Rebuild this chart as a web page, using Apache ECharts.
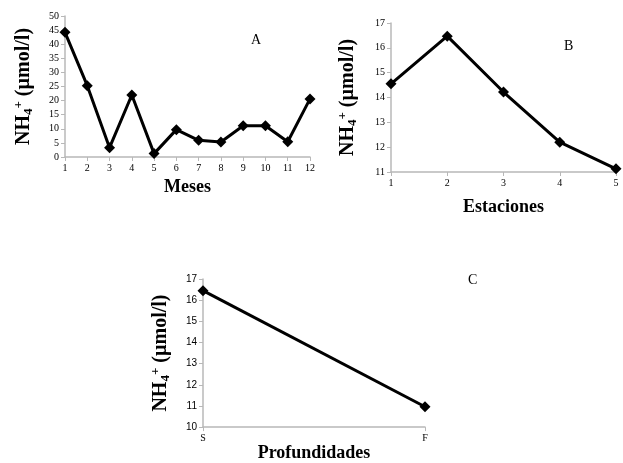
<!DOCTYPE html>
<html>
<head>
<meta charset="utf-8">
<script src="https://cdn.jsdelivr.net/npm/echarts@6/dist/echarts.min.js"></script>
<style>
  html, body { margin: 0; padding: 0; background: #fff; }
  #chart { width: 623px; height: 463px; }
</style>
</head>
<body>
<div id="chart"></div>
<script>
// Monthly ammonium (panel A)
const meses = ['1', '2', '3', '4', '5', '6', '7', '8', '9', '10', '11', '12'];
const nh4Meses = [44.2, 25.3, 3.3, 22.0, 1.2, 9.7, 5.9, 5.3, 11.1, 11.1, 5.4, 20.6];

// Ammonium by station (panel B)
const estaciones = ['1', '2', '3', '4', '5'];
const nh4Estaciones = [14.55, 16.47, 14.22, 12.2, 11.13];

// Ammonium by depth (panel C)
const profundidades = ['S', 'F'];
const nh4Profundidades = [16.45, 10.96];

const SERIF = '"Liberation Serif", "Times New Roman", serif';
const SANS = '"Liberation Sans", Arial, sans-serif';

const yName = '{b|NH}{sub|4}{sup|+}{b| (µmol/l)}';
const yNameRich = {
  b:   { fontFamily: SERIF, fontWeight: 'bold', fontSize: 20, color: '#000' },
  sub: { fontFamily: SERIF, fontWeight: 'bold', fontSize: 13, color: '#000', padding: [9, 0, 0, 0] },
  sup: { fontFamily: SERIF, fontWeight: 'bold', fontSize: 13, color: '#000', padding: [0, 0, 11, 0] }
};

const axisLineStyle = { show: true, lineStyle: { color: '#b8b8b8', width: 1.5 } };
const axisTickStyle = { show: true, length: 4, lineStyle: { color: '#b8b8b8', width: 1 } };

function xAxisFor(gridIndex, cats, name, gap) {
  return {
    gridIndex: gridIndex,
    type: 'category',
    data: cats,
    boundaryGap: false,
    axisLine: axisLineStyle,
    axisTick: Object.assign({ alignWithLabel: true }, axisTickStyle),
    axisLabel: { fontFamily: SERIF, fontSize: 10, color: '#000', margin: 6 },
    splitLine: { show: false },
    name: name,
    nameLocation: 'middle',
    nameGap: gap,
    nameTextStyle: { fontFamily: SERIF, fontWeight: 'bold', fontSize: 18, color: '#000' }
  };
}

function yAxisFor(gridIndex, min, max, interval, labelFont, gap) {
  return {
    gridIndex: gridIndex,
    type: 'value',
    min: min,
    max: max,
    interval: interval,
    axisLine: axisLineStyle,
    axisTick: axisTickStyle,
    axisLabel: { fontFamily: labelFont, fontSize: 10, color: '#000', margin: 6 },
    splitLine: { show: false },
    name: yName,
    nameLocation: 'middle',
    nameGap: gap,
    nameRotate: 90,
    nameTextStyle: { rich: yNameRich }
  };
}

function lineSeries(idx, values) {
  return {
    type: 'line',
    xAxisIndex: idx,
    yAxisIndex: idx,
    data: values,
    symbol: 'diamond',
    symbolSize: 11,
    showAllSymbol: true,
    lineStyle: { color: '#000', width: 3 },
    itemStyle: { color: '#000' },
    animation: false
  };
}

const chart = echarts.init(document.getElementById('chart'), null, { renderer: 'canvas' });

chart.setOption({
  backgroundColor: '#fff',
  animation: false,
  title: [
    { text: 'A', left: 246, top: 28, textStyle: { fontFamily: SERIF, fontWeight: 'normal', fontSize: 14, color: '#000' } },
    { text: 'B', left: 559, top: 34, textStyle: { fontFamily: SERIF, fontWeight: 'normal', fontSize: 14, color: '#000' } },
    { text: 'C', left: 463, top: 268, textStyle: { fontFamily: SERIF, fontWeight: 'normal', fontSize: 14, color: '#000' } }
  ],
  grid: [
    { left: 65, top: 16, width: 245, height: 141 },
    { left: 391, top: 23, width: 225, height: 149 },
    { left: 203, top: 279, width: 222, height: 150 }
  ],
  xAxis: [
    xAxisFor(0, meses, 'Meses', 21),
    xAxisFor(1, estaciones, 'Estaciones', 26),
    xAxisFor(2, profundidades, 'Profundidades', 16)
  ],
  yAxis: [
    yAxisFor(0, 0, 50, 5, SERIF, 29),
    yAxisFor(1, 11, 17, 1, SERIF, 31),
    yAxisFor(2, 10, 17, 1, SANS, 30)
  ],
  series: [
    lineSeries(0, nh4Meses),
    lineSeries(1, nh4Estaciones),
    lineSeries(2, nh4Profundidades)
  ]
});
</script>
</body>
</html>
